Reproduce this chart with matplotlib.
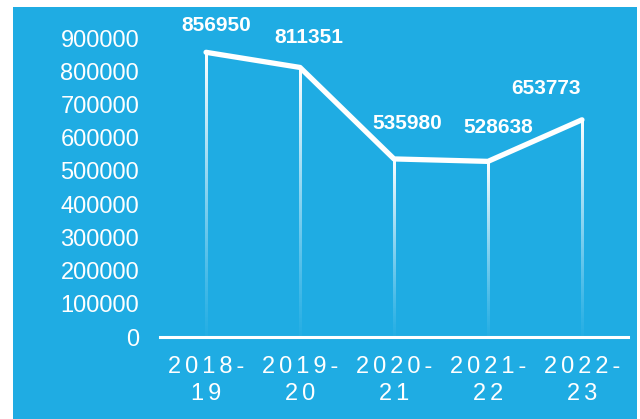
import matplotlib
matplotlib.use("Agg")
import matplotlib.pyplot as plt
from matplotlib.patches import Rectangle
import numpy as np

categories = ["2018-\n19", "2019-\n20", "2020-\n21", "2021-\n22", "2022-\n23"]
values = [856950, 811351, 535980, 528638, 653773]
yticks = [0, 100000, 200000, 300000, 400000, 500000, 600000, 700000, 800000, 900000]
label_offsets = [(10, 27), (9, 30), (13, 35), (10, 34), (-36, 31)]

BG = "#1FACE3"
plt.rcParams['font.family'] = ['Liberation Sans', 'DejaVu Sans']

fig = plt.figure(figsize=(6.4, 4.19), dpi=100)
fig.patch.set_facecolor("white")
fig.patches.append(Rectangle((13/640, 0), (637-13)/640, 1 - 7/419,
                             transform=fig.transFigure, facecolor=BG,
                             edgecolor="none", zorder=-10))

ax = fig.add_axes([160/640, 1-337/419, (628-160)/640, (337-38)/419])
ax.set_facecolor("none")
x = np.arange(len(categories))
xlim = (-0.49, len(categories) - 0.51)

# fading drop lines as gradient images
px_per_unit = (628 - 160) / (xlim[1] - xlim[0])
w = 2.2 / px_per_unit
grad = np.zeros((200, 1, 4))
grad[..., :3] = 1.0
grad[:, 0, 3] = np.linspace(1.0, 0.05, 200) ** 1.2
for xi, v in zip(x, values):
    ax.imshow(grad, extent=(xi - w / 2, xi + w / 2, 0, v), aspect="auto",
              origin="upper", interpolation="bilinear", zorder=2)
ax.set_xlim(*xlim)
ax.set_ylim(0, 900000)

ax.plot(x, values, color="white", lw=3.8, solid_joinstyle='round',
        solid_capstyle='round', zorder=3)

for xi, v, (dx, dy) in zip(x, values, label_offsets):
    ax.annotate(f"{v}", (xi, v), xytext=(dx, dy), textcoords="offset pixels",
                ha="center", va="center", color="white", fontsize=15,
                fontweight="bold", annotation_clip=False, zorder=4)

for s in ["top", "right", "left"]:
    ax.spines[s].set_visible(False)
ax.spines["bottom"].set_color("white")
ax.spines["bottom"].set_linewidth(2.2)
ax.spines["bottom"].set_zorder(5)

ax.set_yticks(yticks)
ax.set_yticklabels([str(t) for t in yticks])
ax.set_xticks(x)
xlabels = ["\n".join("\u200a\u200a".join(line) for line in c.split("\n")) for c in categories]
ax.set_xticklabels(xlabels, linespacing=1.25)
ax.tick_params(axis="both", length=0, colors="white", labelsize=17)
ax.tick_params(axis="y", pad=15)
ax.tick_params(axis="x", pad=14)

fig.savefig("out.png", dpi=100, facecolor="white")
